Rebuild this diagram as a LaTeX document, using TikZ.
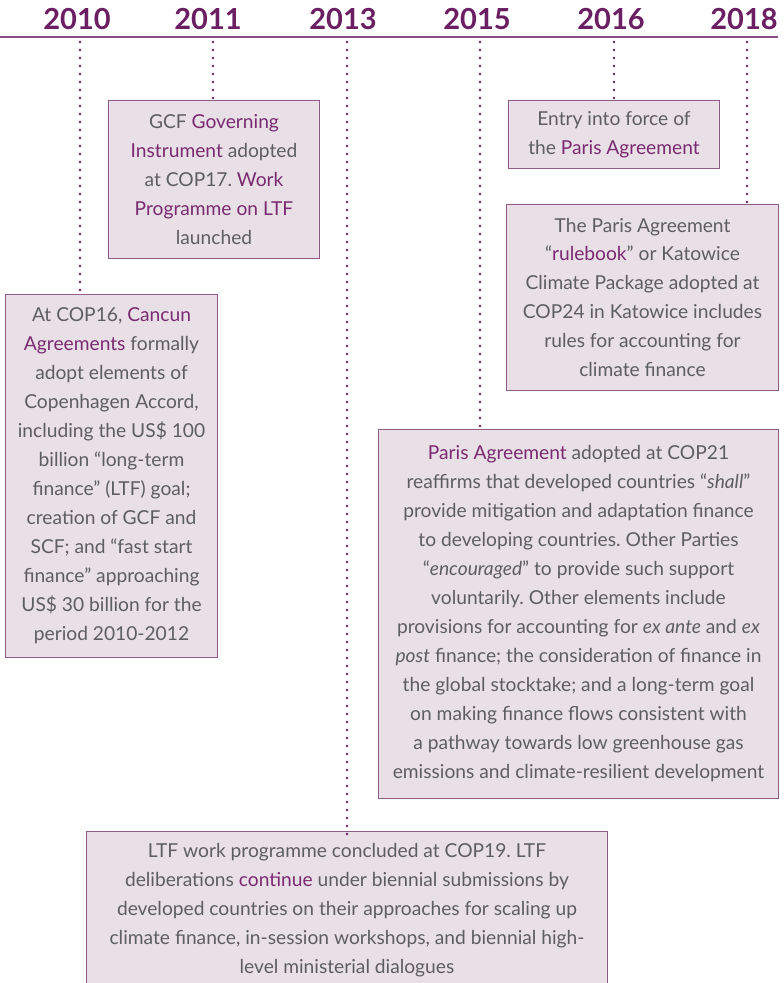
\documentclass[tikz,border=0pt]{standalone}
\usepackage{fontspec}
\setmainfont{Lato}
\frenchspacing
\definecolor{plum}{HTML}{6A1F63}
\definecolor{hl}{HTML}{7A2A70}
\definecolor{boxfill}{HTML}{E8DFE7}
\definecolor{boxline}{HTML}{8E5C86}
\definecolor{txt}{HTML}{5E5E60}
\definecolor{rule}{HTML}{8A4F82}
\newcommand{\hlt}[1]{\textcolor{hl}{#1}}
\begin{document}
\begin{tikzpicture}[x=1pt,y=-1pt,
  year/.style={font=\fontsize{29}{29}\selectfont\bfseries, text=plum, anchor=base, inner sep=0pt},
  evbox/.style={draw=boxline, line width=1pt, fill=boxfill, anchor=north west, align=center,
    text=txt, inner sep=0pt, font=\fontsize{19.2}{29}\selectfont},
  dots/.style={draw=plum, line width=2.6pt, line cap=round, dash pattern=on 0pt off 8pt}]
\useasboundingbox (0,0) rectangle (784,983);
% header
\draw[rule, line width=1.8pt] (0,37) -- (778,37);
\node[year] (y2010) at (77,29) {2010};
\node[year] (y2011) at (208,29) {2011};
\node[year] (y2013) at (343,29) {2013};
\node[year] (y2015) at (477,29) {2015};
\node[year] (y2016) at (611,29) {2016};
\node[year] (y2018) at (744,29) {2018};
\coordinate (t2010) at (80,42);
\coordinate (t2011) at (213,42);
\coordinate (t2013) at (347,42);
\coordinate (t2015) at (480,42);
\coordinate (t2016) at (614,42);
\coordinate (t2018) at (747,42);
% boxes
\node[evbox, minimum width=211pt, minimum height=158pt] (b2011) at (108,100)
 {GCF \hlt{Governing}\\ \hlt{Instrument} adopted\\ at COP17. \hlt{Work}\\ \hlt{Programme on LTF}\\ launched};
\node[evbox, minimum width=212pt, minimum height=363pt] (b2010) at (5,294)
 {At COP16, \hlt{Cancun}\\ \hlt{Agreements} formally\\ adopt elements of\\ Copenhagen Accord,\\ including the US\$ 100\\ billion “long-term\\ finance” (LTF) goal;\\ creation of GCF and\\ SCF; and “fast start\\ finance” approaching\\ US\$ 30 billion for the\\ period 2010-2012};
\node[evbox, minimum width=211pt, minimum height=68pt] (b2016) at (508,100)
 {Entry into force of\\ the \hlt{Paris Agreement}};
\node[evbox, minimum width=272pt, minimum height=186pt] (b2018) at (506,204)
 {The Paris Agreement\\ “\hlt{rulebook}” or Katowice\\ Climate Package adopted at\\ COP24 in Katowice includes\\ rules for accounting for\\ climate finance};
\node[evbox, minimum width=400pt, minimum height=369pt] (b2015) at (378,429)
 {\hlt{Paris Agreement} adopted at COP21\\ reaffirms that developed countries “\textit{shall}”\\ provide mitigation and adaptation finance\\ to developing countries. Other Parties\\ “\textit{encouraged}” to provide such support\\ voluntarily. Other elements include\\ provisions for accounting for \textit{ex ante} and \textit{ex}\\ \textit{post} finance; the consideration of finance in\\ the global stocktake; and a long-term goal\\ on making finance flows consistent with\\ a pathway towards low greenhouse gas\\ emissions and climate-resilient development};
\node[evbox, minimum width=521pt, minimum height=158pt] (b2013) at (86,831)
 {LTF work programme concluded at COP19. LTF\\ deliberations \hlt{continue} under biennial submissions by\\ developed countries on their approaches for scaling up\\ climate finance, in-session workshops, and biennial high-\\ level ministerial dialogues};
% connectors
\draw[dots] (t2010) -- (t2010 |- b2010.north);
\draw[dots] (t2011) -- (t2011 |- b2011.north);
\draw[dots] (t2013) -- ([yshift=-6pt]t2013 |- b2013.north);
\draw[dots] (t2015) -- (t2015 |- b2015.north);
\draw[dots] (t2016) -- (t2016 |- b2016.north);
\draw[dots] (t2018) -- (t2018 |- b2018.north);
\end{tikzpicture}
\end{document}
